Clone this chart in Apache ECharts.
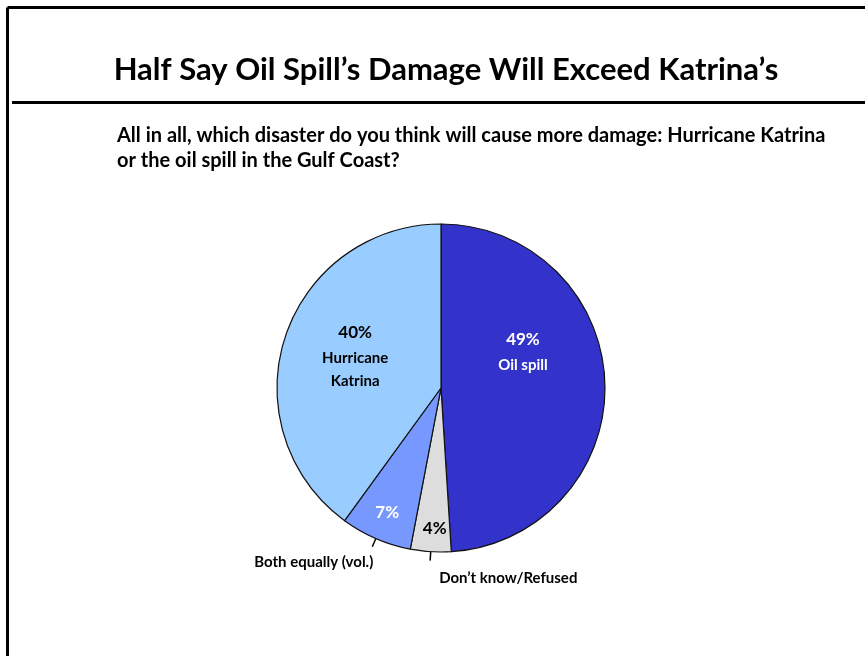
<!DOCTYPE html>
<html>
<head>
<meta charset="utf-8">
<script src="https://cdn.jsdelivr.net/npm/echarts@6/dist/echarts.min.js"></script>
<style>
html,body{margin:0;padding:0;background:#fff;}
#chart{width:865px;height:656px;}
</style>
</head>
<body>
<div id="chart"></div>
<script>
var titleText = "Half Say Oil Spill\u2019s Damage Will Exceed Katrina\u2019s";
var subtitleText = "All in all, which disaster do you think will cause more damage: Hurricane Katrina\nor the oil spill in the Gulf Coast?";
var categories = ["Oil spill", "Don\u2019t know/Refused", "Both equally (vol.)", "Hurricane Katrina"];
var values = [49, 4, 7, 40];
var sliceColors = ["#3333CC", "#DDDDDD", "#7799FF", "#99CCFF"];
var insideText = ["Oil spill", "", "", "Hurricane\nKatrina"];
var insideTextColor = ["#FFFFFF", "#000000", "#FFFFFF", "#000000"];
var outsideLabel = [false, true, true, false];

var FONT = "Lato, 'Open Sans', sans-serif";
var insideOffsets = {
  "Oil spill": [-3, -34],
  "Don\u2019t know/Refused": [-1, 56],
  "Both equally (vol.)": [-20, 47],
  "Hurricane Katrina": [-5, -6]
};

var mainData = categories.map(function (c, i) {
  var t = values[i] + "%" + (insideText[i] ? "\n{n|" + insideText[i] + "}" : "");
  return {
    name: c,
    value: values[i],
    itemStyle: { color: sliceColors[i] },
    label: {
      formatter: t,
      color: insideTextColor[i],
      offset: insideOffsets[c],
      rich: { n: { color: insideTextColor[i], fontSize: 15, fontWeight: "bold", fontFamily: FONT, lineHeight: 23 } }
    }
  };
});

var outerData = categories.map(function (c, i) {
  return {
    name: c,
    value: values[i],
    label: { show: outsideLabel[i] },
    labelLine: { show: outsideLabel[i] }
  };
});

var chart = echarts.init(document.getElementById("chart"), null, { renderer: "canvas" });
chart.setOption({
  animation: false,
  backgroundColor: "#FFFFFF",
  graphic: [
    { type: "line", shape: { x1: 7.5, y1: 7.5, x2: 865, y2: 7.5 }, style: { stroke: "#000", lineWidth: 3 } },
    { type: "line", shape: { x1: 7.5, y1: 7.5, x2: 7.5, y2: 656 }, style: { stroke: "#000", lineWidth: 3 } },
    { type: "line", shape: { x1: 12, y1: 102.5, x2: 865, y2: 102.5 }, style: { stroke: "#000", lineWidth: 3 } }
  ],
  title: [
    {
      text: titleText,
      left: 441, top: 49, textAlign: "center",
      textStyle: { fontFamily: FONT, fontSize: 31, fontWeight: "bold", color: "#000" }
    },
    {
      text: subtitleText,
      left: 112, top: 118,
      textStyle: { fontFamily: FONT, fontSize: 20, fontWeight: "bold", color: "#000", lineHeight: 25 }
    }
  ],
  series: [
    {
      type: "pie",
      center: [441, 388],
      radius: [0, 164],
      startAngle: 90,
      clockwise: true,
      silent: true,
      avoidLabelOverlap: false,
      itemStyle: { borderColor: "#111", borderWidth: 1.2 },
      label: {
        show: true,
        position: "inside",
        fontFamily: FONT,
        fontSize: 17,
        fontWeight: "bold",
        lineHeight: 27
      },
      labelLine: { show: false },
      data: mainData
    },
    {
      type: "pie",
      center: [441, 388],
      radius: [0, 164],
      startAngle: 90,
      clockwise: true,
      silent: true,
      avoidLabelOverlap: false,
      itemStyle: { color: "rgba(0,0,0,0)", borderWidth: 0 },
      label: {
        position: "outside",
        formatter: "{b}",
        fontFamily: FONT,
        fontSize: 15,
        fontWeight: "bold",
        color: "#000"
      },
      labelLine: { length: 9, length2: 0, lineStyle: { color: "#000", width: 1.5 } },
      labelLayout: function (p) {
        var pts = p.labelLinePoints;
        if (!pts) return {};
        var end = pts[1];
        if (p.dataIndex === 2) {
          return { x: end[0] + 1, y: end[1] + 8, align: "right", verticalAlign: "top", labelLinePoints: [pts[0], pts[1], pts[1]] };
        }
        return { x: end[0] + 9, y: end[1] + 10, align: "left", verticalAlign: "top", labelLinePoints: [pts[0], pts[1], pts[1]] };
      },
      data: outerData
    }
  ]
});
</script>
</body>
</html>
